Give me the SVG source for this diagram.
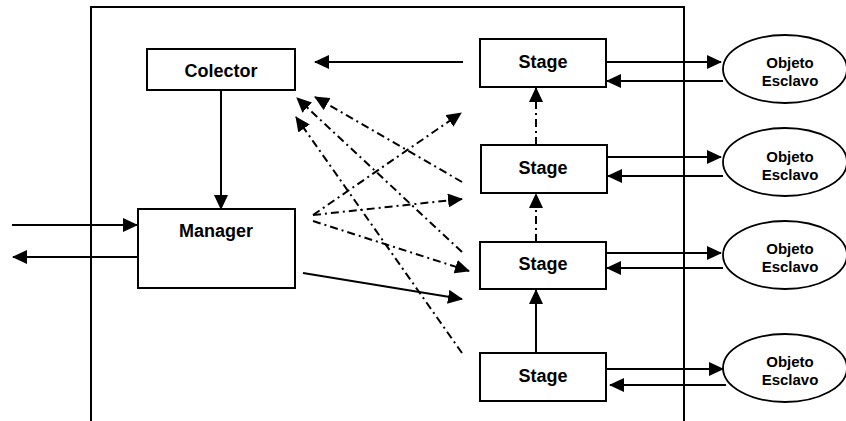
<svg xmlns="http://www.w3.org/2000/svg" width="846" height="421" viewBox="0 0 846 421">
  <style>
    .box { fill: #fff; stroke: #000; stroke-width: 2; }
    .obj { fill: #fff; stroke: #000; stroke-width: 1.8; }
    .lbl { font-family: "Liberation Sans", Arial, sans-serif; font-weight: bold; font-size: 18px; text-anchor: middle; fill: #000; }
    .small { font-size: 15px; }
    .solid { fill: none; stroke: #000; stroke-width: 2; marker-end: url(#arrow); }
    .dashdot { fill: none; stroke: #000; stroke-width: 2; stroke-dasharray: 8 4 2 4; marker-end: url(#arrow); }
    .frame { fill: none; stroke: #000; stroke-width: 2; }
  </style>
  <defs>
    <marker id="arrow" markerUnits="userSpaceOnUse" markerWidth="15" markerHeight="14" refX="14" refY="7" orient="auto">
      <path d="M0,0 L15,7 L0,14 z" fill="#000"/>
    </marker>
  </defs>
  <rect width="846" height="421" fill="#fff"/>

  <!-- open-bottomed system frame -->
  <path class="frame" d="M91,421 V7 H684 V421"/>

  <g id="connectors">
    <!-- external in/out of the manager -->
    <line class="solid" x1="12" y1="225" x2="137" y2="225"/>
    <line class="solid" x1="138" y1="257" x2="13" y2="257"/>
    <!-- colector to manager -->
    <line class="solid" x1="221" y1="90" x2="221" y2="209"/>
    <!-- first stage back to colector -->
    <line class="solid" x1="463" y1="62" x2="315" y2="62"/>
    <!-- stage chain -->
    <line class="dashdot" x1="536" y1="145" x2="536" y2="88"/>
    <line class="dashdot" x1="536" y1="242" x2="536" y2="194"/>
    <line class="solid" x1="536" y1="353" x2="536" y2="290"/>
    <!-- stages reporting to colector -->
    <line class="dashdot" x1="462" y1="182" x2="315" y2="97"/>
    <line class="dashdot" x1="462" y1="252" x2="297" y2="98"/>
    <line class="dashdot" x1="462" y1="353" x2="296" y2="117"/>
    <!-- manager dispatching to stages -->
    <line class="dashdot" x1="313" y1="215" x2="461" y2="113"/>
    <line class="dashdot" x1="313" y1="215" x2="462" y2="199"/>
    <line class="dashdot" x1="313" y1="221" x2="469" y2="271"/>
    <line class="solid" x1="303" y1="273" x2="462" y2="299"/>
    <!-- stages to slave objects and back -->
    <line class="solid" x1="607" y1="62" x2="721" y2="62"/>
    <line class="solid" x1="723" y1="81" x2="607" y2="81"/>
    <line class="solid" x1="608" y1="157" x2="721" y2="157"/>
    <line class="solid" x1="723" y1="176" x2="608" y2="176"/>
    <line class="solid" x1="607" y1="253" x2="721" y2="253"/>
    <line class="solid" x1="723" y1="268" x2="607" y2="268"/>
    <line class="solid" x1="607" y1="369" x2="723" y2="369"/>
    <line class="solid" x1="726" y1="385" x2="610" y2="385"/>
  </g>

  <g id="colector">
    <rect class="box" x="147" y="49" width="148" height="41"/>
    <text class="lbl" x="221" y="77">Colector</text>
  </g>
  <g id="manager">
    <rect class="box" x="138" y="209" width="157" height="79"/>
    <text class="lbl" x="216" y="237">Manager</text>
  </g>

  <g id="stage1">
    <rect class="box" x="480" y="39" width="126" height="48"/>
    <text class="lbl" x="543" y="68">Stage</text>
  </g>
  <g id="stage2">
    <rect class="box" x="481" y="145" width="126" height="48"/>
    <text class="lbl" x="543" y="174">Stage</text>
  </g>
  <g id="stage3">
    <rect class="box" x="480" y="242" width="126" height="47"/>
    <text class="lbl" x="543" y="270">Stage</text>
  </g>
  <g id="stage4">
    <rect class="box" x="480" y="353" width="126" height="48"/>
    <text class="lbl" x="543" y="382">Stage</text>
  </g>

  <g id="objeto1">
    <ellipse class="obj" cx="785" cy="69" rx="62" ry="34"/>
    <text class="lbl small" x="790" y="68">Objeto</text>
    <text class="lbl small" x="790" y="86">Esclavo</text>
  </g>
  <g id="objeto2">
    <ellipse class="obj" cx="785" cy="162" rx="62" ry="34"/>
    <text class="lbl small" x="790" y="162">Objeto</text>
    <text class="lbl small" x="790" y="180">Esclavo</text>
  </g>
  <g id="objeto3">
    <ellipse class="obj" cx="785" cy="255" rx="62" ry="34"/>
    <text class="lbl small" x="790" y="254">Objeto</text>
    <text class="lbl small" x="790" y="272">Esclavo</text>
  </g>
  <g id="objeto4">
    <ellipse class="obj" cx="785" cy="368" rx="62" ry="34"/>
    <text class="lbl small" x="790" y="367">Objeto</text>
    <text class="lbl small" x="790" y="385">Esclavo</text>
  </g>
</svg>
